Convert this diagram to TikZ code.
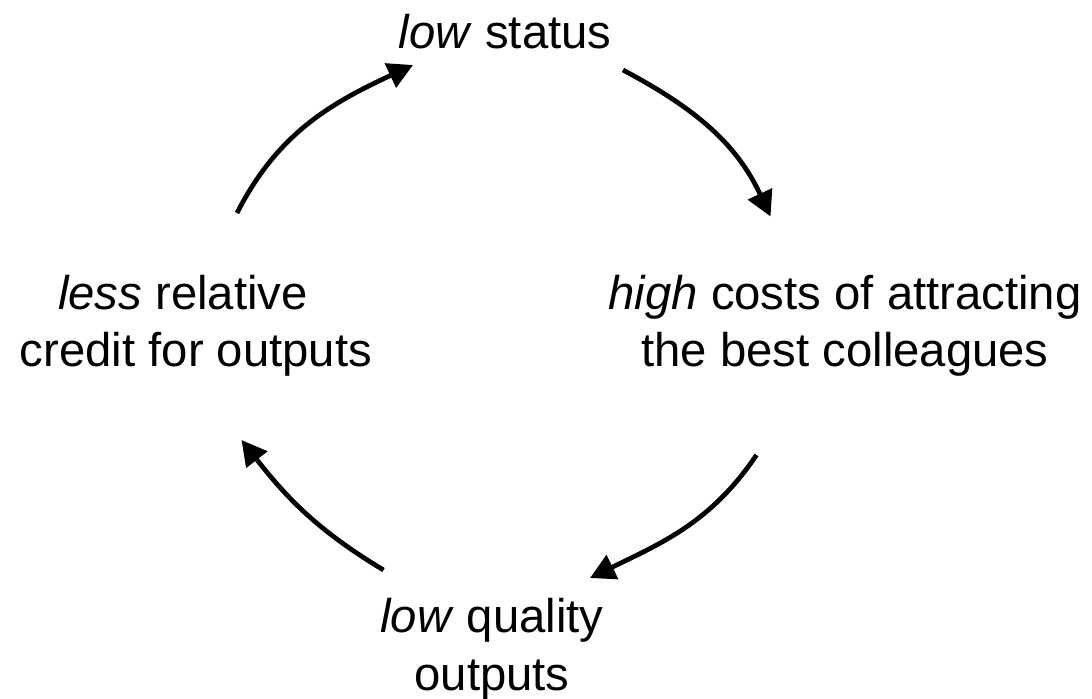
\documentclass[tikz,border=0pt]{standalone}
\usepackage{fontspec}
\setmainfont{Liberation Sans}
\usetikzlibrary{arrows.meta}

\begin{document}
\begin{tikzpicture}[line width=2.7pt,
    lbl/.style={align=center, anchor=base, inner sep=0pt, font=\fontsize{26.9}{33}\selectfont},
    cyc/.style={-{Triangle[length=0.5cm,width=0.52cm]}}]
    \useasboundingbox (0,0) rectangle (21.84,13.96);
    \coordinate (S1) at (4.74, 9.70);
    \coordinate (E1) at (8.26, 12.66);
    \coordinate (S2) at (12.46, 12.56);
    \coordinate (E2) at (15.41, 9.63);
    \coordinate (S3) at (15.13, 4.86);
    \coordinate (E3) at (11.80, 2.40);
    \coordinate (S4) at (7.67, 2.56);
    \coordinate (E4) at (4.83, 5.16);

    \node[lbl] (ST) at (10.10, 12.98) {\textit{low} status}; % top
    \node[lbl] (CO) at (16.90, 6.62) {\textit{high} costs of attracting\\the best colleagues}; % right
    \node[lbl] (QU) at (9.84, 0.16) {\textit{low} quality\\outputs}; % bottom
    \node[lbl] (CR) at (3.92, 6.62) {\textit{less} relative\hspace*{0.52cm}\\credit for outputs}; % left

    \draw[cyc] (S1) to[out=63, in=205] (E1);
    \draw[cyc] (S2) to[out=-28, in=115] (E2);
    \draw[cyc] (S3) to[out=236, in=26] (E3);
    \draw[cyc] (S4) to[out=149, in=-52] (E4);
\end{tikzpicture}
\end{document}
